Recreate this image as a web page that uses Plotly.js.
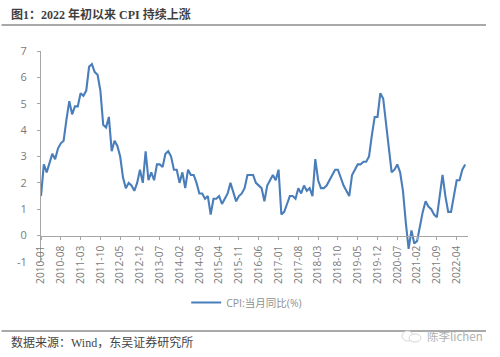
<!DOCTYPE html>
<html>
<head>
<meta charset="utf-8">
<script src="https://cdn.plot.ly/plotly-3.0.1.min.js"></script>
<style>html,body{margin:0;padding:0;background:#fff}#c{width:500px;height:357px}</style>
</head>
<body>
<div id="c"></div>
<script>
var startYear = 2010;
var cpiByYear = [
  [1.5,2.7,2.4,2.8,3.1,2.9,3.3,3.5,3.6,4.4,5.1,4.6],
  [4.9,4.9,5.4,5.3,5.5,6.4,6.5,6.2,6.1,5.5,4.2,4.1],
  [4.5,3.2,3.6,3.4,3.0,2.2,1.8,2.0,1.9,1.7,2.0,2.5],
  [2.0,3.2,2.1,2.4,2.1,2.7,2.7,2.6,3.1,3.2,3.0,2.5],
  [2.5,2.0,2.4,1.8,2.5,2.3,2.3,2.0,1.6,1.6,1.4,1.5],
  [0.8,1.4,1.4,1.5,1.2,1.4,1.6,2.0,1.6,1.3,1.5,1.6],
  [1.8,2.3,2.3,2.3,2.0,1.9,1.8,1.3,1.9,2.1,2.3,2.1],
  [2.5,0.8,0.9,1.2,1.5,1.5,1.4,1.8,1.6,1.9,1.7,1.8],
  [1.5,2.9,2.1,1.8,1.8,1.9,2.1,2.3,2.5,2.5,2.2,1.9],
  [1.7,1.5,2.3,2.5,2.7,2.7,2.8,2.8,3.0,3.8,4.5,4.5],
  [5.4,5.2,4.3,3.3,2.4,2.5,2.7,2.4,1.7,0.5,-0.5,0.2],
  [-0.3,-0.2,0.4,0.9,1.3,1.1,1.0,0.8,0.7,1.5,2.3,1.5],
  [0.9,0.9,1.5,2.1,2.1,2.5,2.7]
];
var tickLabels = ["2010-01","2010-08","2011-03","2011-10","2012-05","2012-12","2013-07","2014-02","2014-09","2015-04","2015-11","2016-06","2017-01","2017-08","2018-03","2018-10","2019-05","2019-12","2020-07","2021-02","2021-09","2022-04"];
var yTicks = [-1,0,1,2,3,4,5,6,7];
var seriesName = "CPI:当月同比(%)";
var titleText = "<b>图1：2022 年初以来 CPI 持续上涨</b>";
var sourceText = "数据来源：Wind，东吴证券研究所";
var watermarkText = "陈李lichen";

var months = [], values = [];
cpiByYear.forEach(function (row, i) {
  row.forEach(function (v, m) {
    months.push((startYear + i) + "-" + (m < 9 ? "0" : "") + (m + 1));
    values.push(v);
  });
});

var W = 500, H = 357;
var cjk = '"Liberation Serif","Noto Sans CJK SC",serif';
var axisGrey = "#a6a6a6", textGrey = "#7a7a7a";
var PW = 427.5, PH = 211, L = 40.5, B = 262;
function fx(x){return (x-L)/PW;}
function fy(y){return (B-y)/PH;}

var layout = {
  width: W, height: H,
  paper_bgcolor: "#fff", plot_bgcolor: "#fff",
  margin: {l: 40.5, r: 32, t: 51, b: 95, pad: 0},
  showlegend: true,
  legend: {
    orientation: "h", xref: "paper", yref: "paper",
    x: 0.34, xanchor: "left", y: -0.192, yanchor: "middle",
    bgcolor: "rgba(0,0,0,0)",
    font: {family: '"Open Sans","Noto Sans CJK SC",sans-serif', size: 10.5, color: "#8f8f8f"}
  },
  xaxis: {
    type: "category", categoryorder: "array", categoryarray: months,
    range: [0, 151], fixedrange: true,
    anchor: "free", position: 0.125,
    tickmode: "array", tickvals: tickLabels, ticktext: tickLabels,
    tickangle: -90, ticks: "outside", ticklen: 3, tickcolor: axisGrey, tickwidth: 1,
    ticklabelstandoff: 2,
    tickfont: {family: '"Open Sans",sans-serif', size: 10.2, color: textGrey},
    showgrid: false, zeroline: false, showline: true, linecolor: axisGrey, linewidth: 1
  },
  yaxis: {
    range: [-1, 7], fixedrange: true,
    tickmode: "array", tickvals: yTicks, ticktext: yTicks.map(String),
    ticks: "outside", ticklen: 3, tickcolor: axisGrey, tickwidth: 1,
    ticklabelstandoff: 8,
    tickfont: {family: '"Open Sans",sans-serif', size: 11, color: textGrey},
    showgrid: false, zeroline: false, showline: true, linecolor: axisGrey, linewidth: 1
  },
  shapes: [
    {type:"line", xref:"paper", yref:"paper", x0:fx(1), x1:fx(486), y0:fy(25), y1:fy(25), line:{color:"#555",width:1.2}},
    {type:"line", xref:"paper", yref:"paper", x0:fx(1), x1:fx(486), y0:fy(331), y1:fy(331), line:{color:"#555",width:1.2}},
    {type:"circle", xref:"paper", yref:"paper", x0:fx(402), x1:fx(413), y0:fy(341), y1:fy(331), line:{color:"#d6d6d6",width:1}, fillcolor:"rgba(255,255,255,0.9)"},
    {type:"circle", xref:"paper", yref:"paper", x0:fx(409), x1:fx(421), y0:fy(342), y1:fy(334), line:{color:"#d6d6d6",width:1}, fillcolor:"rgba(255,255,255,0.9)"}
  ],
  annotations: [
    {xref:"paper", yref:"paper", x:fx(8), y:fy(14), xanchor:"left", yanchor:"middle", showarrow:false, text:titleText, font:{family:cjk, size:12, color:"#3f3f3f"}},
    {xref:"paper", yref:"paper", x:fx(8), y:fy(342.5), xanchor:"left", yanchor:"middle", showarrow:false, text:sourceText, font:{family:cjk, size:12, color:"#444"}},
    {xref:"paper", yref:"paper", x:fx(425), y:fy(335.5), xanchor:"left", yanchor:"middle", showarrow:false, text:watermarkText, font:{family:'"Noto Sans CJK SC",sans-serif', size:11.5, color:"#b0b0b0"}}
  ]
};

Plotly.newPlot("c", [{
  type: "scatter", mode: "lines", name: seriesName,
  x: months, y: values,
  line: {color: "#4a7ebb", width: 2.1, shape: "linear"},
  cliponaxis: false
}], layout, {displayModeBar: false, staticPlot: true});
</script>
</body>
</html>
